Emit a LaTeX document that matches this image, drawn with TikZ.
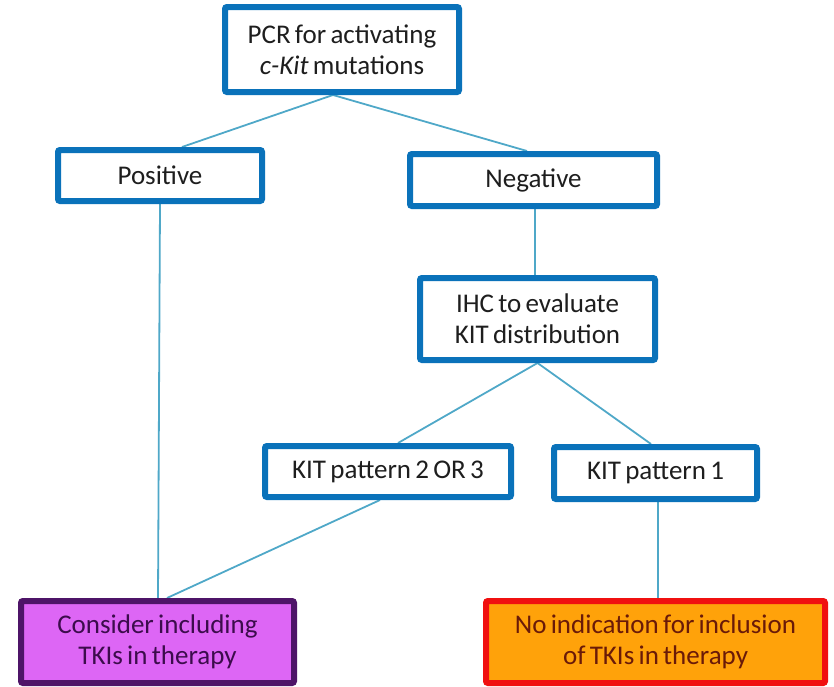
\documentclass[tikz,border=0pt]{standalone}
\usepackage{fontspec}
\setmainfont[WordSpace=0.7]{Carlito}
\usetikzlibrary{backgrounds}
\definecolor{boxblue}{HTML}{0A72BA}
\definecolor{linkblue}{HTML}{4FA8C8}
\definecolor{txtgray}{HTML}{1E1E1E}
\definecolor{violetfill}{HTML}{DD66F5}
\definecolor{violetline}{HTML}{4E1468}
\definecolor{violettext}{HTML}{3C0C4C}
\definecolor{orangefill}{HTML}{FFA20A}
\definecolor{redline}{HTML}{F01010}
\definecolor{redtext}{HTML}{6A1A08}
\begin{document}
\begin{tikzpicture}[x=1pt,y=-1pt,
  every node/.style={font=\fontsize{27}{31}\selectfont, align=center, inner sep=0pt, rounded corners=2pt},
  bluebox/.style={draw=boxblue, line width=6pt, fill=white, text=txtgray},
  violetbox/.style={draw=violetline, line width=6pt, fill=violetfill, text=violettext},
  orangebox/.style={draw=redline, line width=6pt, fill=orangefill, text=redtext},
  link/.style={draw=linkblue, line width=1.8pt}]
\useasboundingbox (0,0) rectangle (834,686);
\node[bluebox, minimum width=234pt, minimum height=85pt] (pcr) at (342,49.5) {PCR for activating\\\textit{c-Kit} mutations};
\node[bluebox, minimum width=204pt, minimum height=51pt] (pos) at (160,175.5) {Positive};
\node[bluebox, minimum width=247pt, minimum height=52pt] (neg) at (533.5,180) {Negative};
\node[bluebox, minimum width=235pt, minimum height=82pt] (ihc) at (537.5,319) {IHC to evaluate\\KIT distribution};
\node[bluebox, minimum width=246pt, minimum height=51pt] (k23) at (388,471.5) {KIT pattern 2 OR 3};
\node[bluebox, minimum width=203pt, minimum height=52pt] (k1) at (655.5,473) {KIT pattern 1};
\node[violetbox, minimum width=273pt, minimum height=82pt] (cons) at (157.5,642) {Consider including\\TKIs in therapy};
\node[orangebox, minimum width=339pt, minimum height=82pt] (noind) at (655.5,642) {No indication for inclusion\\of TKIs in therapy};
\begin{scope}[on background layer]
\draw[link] ([xshift=-9pt]pcr.south) -- ([xshift=22pt]pos.north);
\draw[link] ([xshift=-9pt]pcr.south) -- ([xshift=-6.5pt]neg.north);
\draw[link] ([xshift=1.5pt]neg.south) -- ([xshift=-2.5pt]ihc.north);
\draw[link] (pos.south) -- ([xshift=0.5pt]cons.north);
\draw[link] (ihc.south) -- ([xshift=10pt]k23.north);
\draw[link] (ihc.south) -- ([xshift=-4.5pt]k1.north);
\draw[link] ([xshift=-8pt]k23.south) -- ([xshift=9.5pt]cons.north);
\draw[link] ([xshift=2.5pt]k1.south) -- ([xshift=2.5pt]noind.north);
\end{scope}
\end{tikzpicture}
\end{document}
